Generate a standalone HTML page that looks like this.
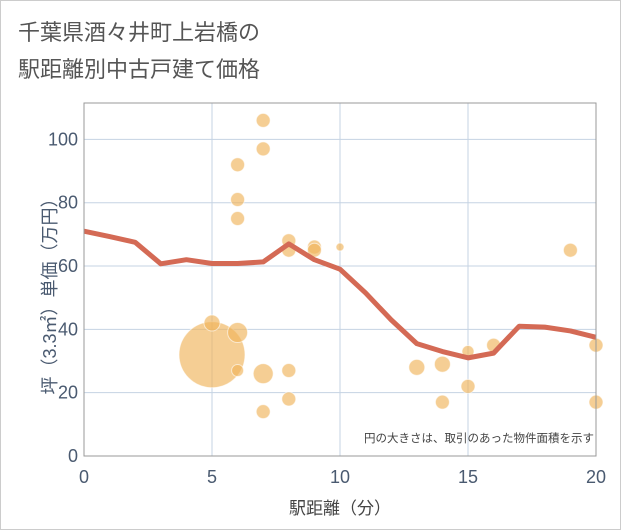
<!DOCTYPE html>
<html><head><meta charset="utf-8"><style>
body{margin:0;background:#fff;font-family:"Liberation Sans","Noto Sans CJK JP",sans-serif}
#wrap{position:relative;width:619px;height:528px;border:1px solid #ccc;overflow:hidden}
</style></head><body>
<div id="wrap">
<svg id="svg" width="621" height="530" style="position:absolute;left:-1px;top:-1px">
<text x="18" y="40" font-size="22" fill="#555">千葉県酒々井町上岩橋の</text>
<text x="18" y="77" font-size="22" fill="#555">駅距離別中古戸建て価格</text>
<g id="grid"></g>
<g id="bubbles"></g>
<g id="line"></g>
<g id="axes"></g>
<text x="594" y="442" font-size="11.5" fill="#444" text-anchor="end">円の大きさは、取引のあった物件面積を示す</text>
<text x="340" y="514" font-size="17" fill="#444" text-anchor="middle">駅距離（分）</text>
<text transform="translate(56,292) rotate(-90)" font-size="18" fill="#4a5a70" text-anchor="middle">坪（3.3㎡）単価（万円）</text>
</svg>
</div>
<script>
const xTicks=[0,5,10,15,20];
const yTicks=[0,20,40,60,80,100];
const lineX=[0,1,2,3,4,5,6,7,8,9,10,11,12,13,14,15,16,17,18,19,20];
const lineY=[71,69.3,67.5,60.7,62,60.8,60.8,61.3,67,62,59,51.5,43,35.5,33,31,32.5,41,40.7,39.5,37.5];
const bubX=[5,5,6,6,6,6,6,7,7,7,7,8,8,8,8,9,9,10,13,14,14,15,15,16,19,20,20];
const bubY=[32,42,39,27,92,81,75,106,97,26,14,68,65,27,18,66,65,66,28,29,17,33,22,35,65,35,17];
const bubR=[33,8,10,6,7,7,7,7,7,10,7,7,7,7,7,7,7,4,8,8,7,6,7,7,7,7,7];
const X0=84,X1=596,Y0=456,Y1=103,YMAX=111.5;
const sx=v=>X0+(v/20)*(X1-X0);
const sy=v=>Y0-(v/YMAX)*(Y0-Y1);
const NS="http://www.w3.org/2000/svg";
function mk(t,a,p){const e=document.createElementNS(NS,t);for(const k in a)e.setAttribute(k,a[k]);p.appendChild(e);return e;}
const grid=document.getElementById('grid'),axes=document.getElementById('axes');
let r=mk('rect',{x:X0,y:Y1,width:X1-X0,height:Y0-Y1,fill:'none',stroke:'#999'},axes);


xTicks.forEach(v=>{
 const l=mk('line',{x1:sx(v),x2:sx(v),y1:Y1,y2:Y0,stroke:'#c5d3e3'},grid);
 
 
 const t=mk('text',{x:sx(v),y:Y0+27,'font-size':18,fill:'#4a5a70','text-anchor':'middle'},axes);
 t.textContent=v;
 
 
});
yTicks.forEach(v=>{
 const l=mk('line',{x1:X0,x2:X1,y1:sy(v),y2:sy(v),stroke:'#c5d3e3'},grid);
 
 
 const t=mk('text',{x:X0-6,y:sy(v)+6,'font-size':18,fill:'#4a5a70','text-anchor':'end'},axes);
 t.textContent=v;
 
 
});
const bg=document.getElementById('bubbles');
bubX.forEach((x,i)=>{
 const c=mk('circle',{cx:sx(x),cy:sy(bubY[i]),r:bubR[i],fill:'rgba(240,180,90,0.65)',stroke:'rgba(255,255,255,0.6)'},bg);
 
 
});
const pts=lineX.map((x,i)=>sx(x)+','+sy(lineY[i])).join(' ');
const pl=mk('polyline',{points:pts,fill:'none',stroke:'#d46a55',"stroke-width":5,"stroke-linejoin":'round'},document.getElementById('line'));


</script>
</body></html>
